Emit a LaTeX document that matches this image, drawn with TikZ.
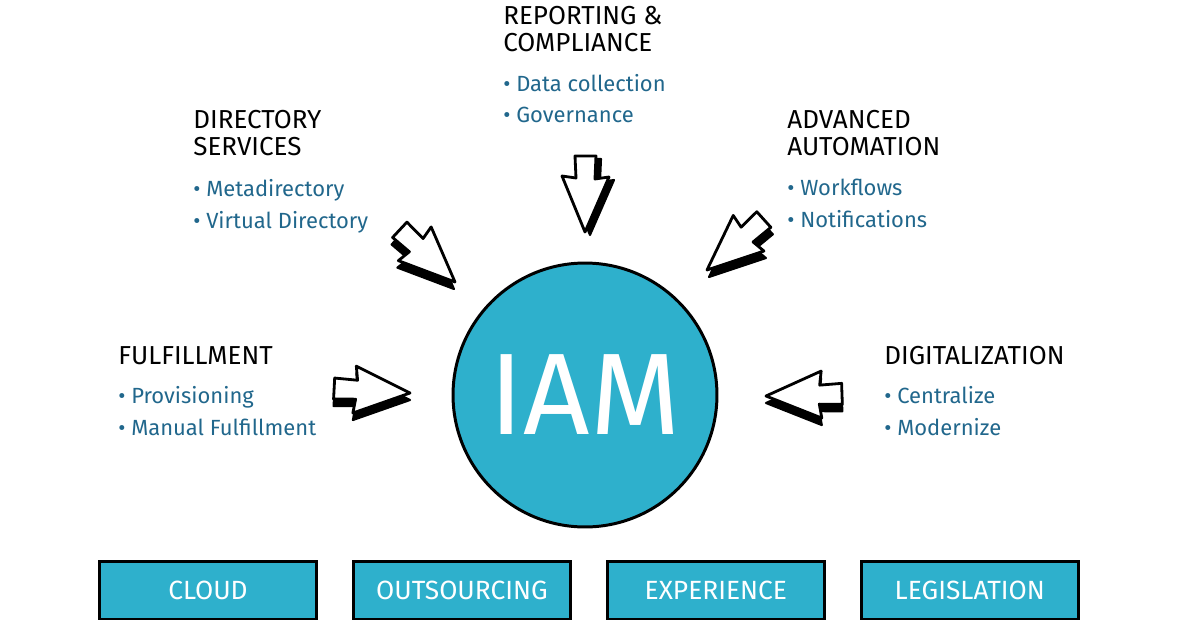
\documentclass[tikz,border=0pt]{standalone}
\usepackage{fontspec}
\setmainfont{Fira Sans}
\usepackage{xcolor}
\usetikzlibrary{positioning}

\definecolor{iamblue}{RGB}{46,176,204}
\definecolor{itemblue}{RGB}{33,103,140}

\tikzset{
  blockarr/.pic={
    \path[pic actions] (0,0) -- (-55,-24) -- (-53,-10) -- (-76,-11) -- (-76,10) -- (-54,9) -- (-56,23) -- cycle;
  }
}

\begin{document}
\begin{tikzpicture}[
    x=0.02cm, y=-0.02cm,
    title/.style={inner sep=0pt, anchor=north west, align=left, font=\fontsize{14.8}{15.6}\selectfont},
    bul/.style={inner sep=0pt, align=left, text=itemblue, font=\fontsize{12.5}{18}\selectfont},
    topic/.style={draw=black, line width=1.7pt, fill=iamblue, text=white,
      minimum width=4.34cm, minimum height=1.16cm, font=\fontsize{15}{15}\selectfont},
    arrside/.style={fill=black, draw=black, line width=1.2pt, line join=round},
    arrface/.style={fill=white, draw=black, line width=1.6pt, line join=round},
  ]
  \useasboundingbox (0,0) rectangle (1181,623);

  % centre
  \node[circle, draw=black, line width=1.7pt, fill=iamblue, minimum size=5.28cm,
    text=white, font=\fontsize{66}{66}\selectfont] (iam) at (585,395) {IAM};

  % groups
  \node[title] (repT) at (503,6) {REPORTING \&\\COMPLIANCE};
  \node[bul, below=0.42cm of repT.south west, anchor=north west] (repL) {• Data collection\\• Governance};

  \node[title] (dirT) at (193,110) {DIRECTORY\\SERVICES};
  \node[bul, below=0.45cm of dirT.south west, anchor=north west] (dirL) {• Metadirectory\\• Virtual Directory};

  \node[title] (autoT) at (787,110) {ADVANCED\\AUTOMATION};
  \node[bul, below=0.45cm of autoT.south west, anchor=north west] (autoL) {• Workflows\\• Notifications};

  \node[title] (fulT) at (118,346) {FULFILLMENT};
  \node[bul, below=0.42cm of fulT.south west, anchor=north west] (fulL) {• Provisioning\\• Manual Fulfillment};

  \node[title] (digT) at (884,346) {DIGITALIZATION};
  \node[bul, below=0.42cm of digT.south west, anchor=north west] (digL) {• Centralize\\• Modernize};

  % arrows
  \pic[rotate=-90, arrside] at (590,235) {blockarr};
  \pic[rotate=-90, arrface] at (585,232) {blockarr};
  \pic[rotate=-43, arrside] at (454,289) {blockarr};
  \pic[rotate=-43, arrface] at (455,282) {blockarr};
  \pic[rotate=-138, arrside] at (709,277) {blockarr};
  \pic[rotate=-138, arrface] at (707,270) {blockarr};
  \pic[rotate=-3, arrside] at (410,400) {blockarr};
  \pic[rotate=-3, arrface] at (410,393) {blockarr};
  \pic[rotate=182, arrside] at (766,403) {blockarr};
  \pic[rotate=182, arrface] at (766,396) {blockarr};

  % bottom row
  \node[topic] (cloud) at (208,590) {CLOUD};
  \node[topic, right=0.68cm of cloud] (outsrc) {OUTSOURCING};
  \node[topic, right=0.68cm of outsrc] (exper) {EXPERIENCE};
  \node[topic, right=0.68cm of exper] (legis) {LEGISLATION};
\end{tikzpicture}
\end{document}
